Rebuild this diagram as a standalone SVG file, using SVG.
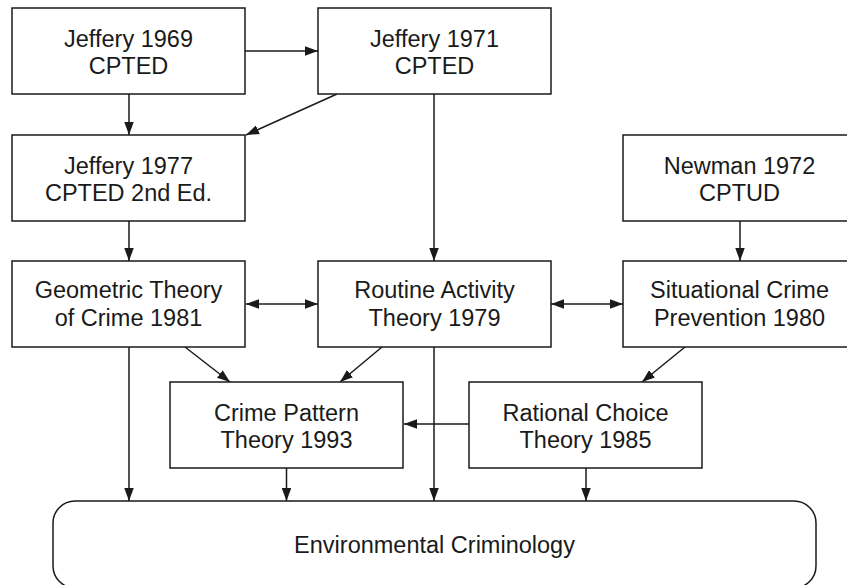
<svg xmlns="http://www.w3.org/2000/svg" width="847" height="585" viewBox="0 0 847 585">
<style>
  .box { fill: #ffffff; stroke: #1a1a1a; stroke-width: 1.5; }
  .lbl { font-family: "Liberation Sans", Arial, Helvetica, sans-serif; font-size: 23.5px; fill: #1a1a1a; text-anchor: middle; }
  .edge { fill: none; stroke: #1a1a1a; stroke-width: 1.5; marker-end: url(#ah); }
  .both { marker-start: url(#ah); }
</style>
<defs>
  <marker id="ah" viewBox="0 0 13 9.5" refX="13" refY="4.75" markerWidth="13" markerHeight="9.5" markerUnits="userSpaceOnUse" orient="auto-start-reverse">
    <path d="M0,0 L13,4.75 L0,9.5 z" fill="#1a1a1a"/>
  </marker>
</defs>
<rect width="847" height="585" fill="#ffffff"/>

<g id="connectors">
  <line class="edge" x1="245" y1="51" x2="318" y2="51"/>
  <line class="edge" x1="129" y1="94" x2="129" y2="135"/>
  <line class="edge" x1="337" y1="94" x2="246" y2="135"/>
  <line class="edge" x1="434" y1="94" x2="434" y2="261"/>
  <line class="edge" x1="129" y1="221" x2="129" y2="261"/>
  <line class="edge" x1="740" y1="221" x2="740" y2="261"/>
  <line class="edge both" x1="246" y1="304" x2="318" y2="304"/>
  <line class="edge both" x1="551" y1="304" x2="623" y2="304"/>
  <line class="edge" x1="185" y1="347" x2="230" y2="382"/>
  <line class="edge" x1="382" y1="347" x2="340" y2="382"/>
  <line class="edge" x1="685" y1="347" x2="642" y2="382"/>
  <line class="edge" x1="469" y1="424" x2="404" y2="424"/>
  <line class="edge" x1="129" y1="347" x2="129" y2="501"/>
  <line class="edge" x1="286.5" y1="468" x2="286.5" y2="501"/>
  <line class="edge" x1="434" y1="347" x2="434" y2="501"/>
  <line class="edge" x1="586" y1="468" x2="586" y2="501"/>
</g>

<g id="jeffery1969">
  <rect class="box" x="12" y="8" width="233" height="86"/>
  <text class="lbl" x="128.5" y="46.5">Jeffery 1969</text>
  <text class="lbl" x="128.5" y="74">CPTED</text>
</g>
<g id="jeffery1971">
  <rect class="box" x="318" y="8" width="233" height="86"/>
  <text class="lbl" x="434.5" y="46.5">Jeffery 1971</text>
  <text class="lbl" x="434.5" y="74">CPTED</text>
</g>
<g id="jeffery1977">
  <rect class="box" x="12" y="135" width="233" height="86"/>
  <text class="lbl" x="128.5" y="173.5">Jeffery 1977</text>
  <text class="lbl" x="128.5" y="201">CPTED 2nd Ed.</text>
</g>
<g id="newman1972">
  <rect class="box" x="623" y="135" width="233" height="86"/>
  <text class="lbl" x="739.5" y="173.5">Newman 1972</text>
  <text class="lbl" x="739.5" y="201">CPTUD</text>
</g>
<g id="geometric">
  <rect class="box" x="12" y="261" width="233" height="86"/>
  <text class="lbl" x="128.5" y="297.5">Geometric Theory</text>
  <text class="lbl" x="128.5" y="325.5">of Crime 1981</text>
</g>
<g id="routine">
  <rect class="box" x="318" y="261" width="233" height="86"/>
  <text class="lbl" x="434.5" y="297.5">Routine Activity</text>
  <text class="lbl" x="434.5" y="325.5">Theory 1979</text>
</g>
<g id="situational">
  <rect class="box" x="623" y="261" width="233" height="86"/>
  <text class="lbl" x="739.5" y="297.5">Situational Crime</text>
  <text class="lbl" x="739.5" y="325.5">Prevention 1980</text>
</g>
<g id="crimepattern">
  <rect class="box" x="170" y="382" width="233" height="86"/>
  <text class="lbl" x="286.5" y="420.5">Crime Pattern</text>
  <text class="lbl" x="286.5" y="448">Theory 1993</text>
</g>
<g id="rationalchoice">
  <rect class="box" x="469" y="382" width="233" height="86"/>
  <text class="lbl" x="585.5" y="420.5">Rational Choice</text>
  <text class="lbl" x="585.5" y="448">Theory 1985</text>
</g>
<g id="envcrim">
  <rect class="box" x="53" y="501" width="763" height="87" rx="22" ry="22"/>
  <text class="lbl" x="434.5" y="553">Environmental Criminology</text>
</g>
</svg>
